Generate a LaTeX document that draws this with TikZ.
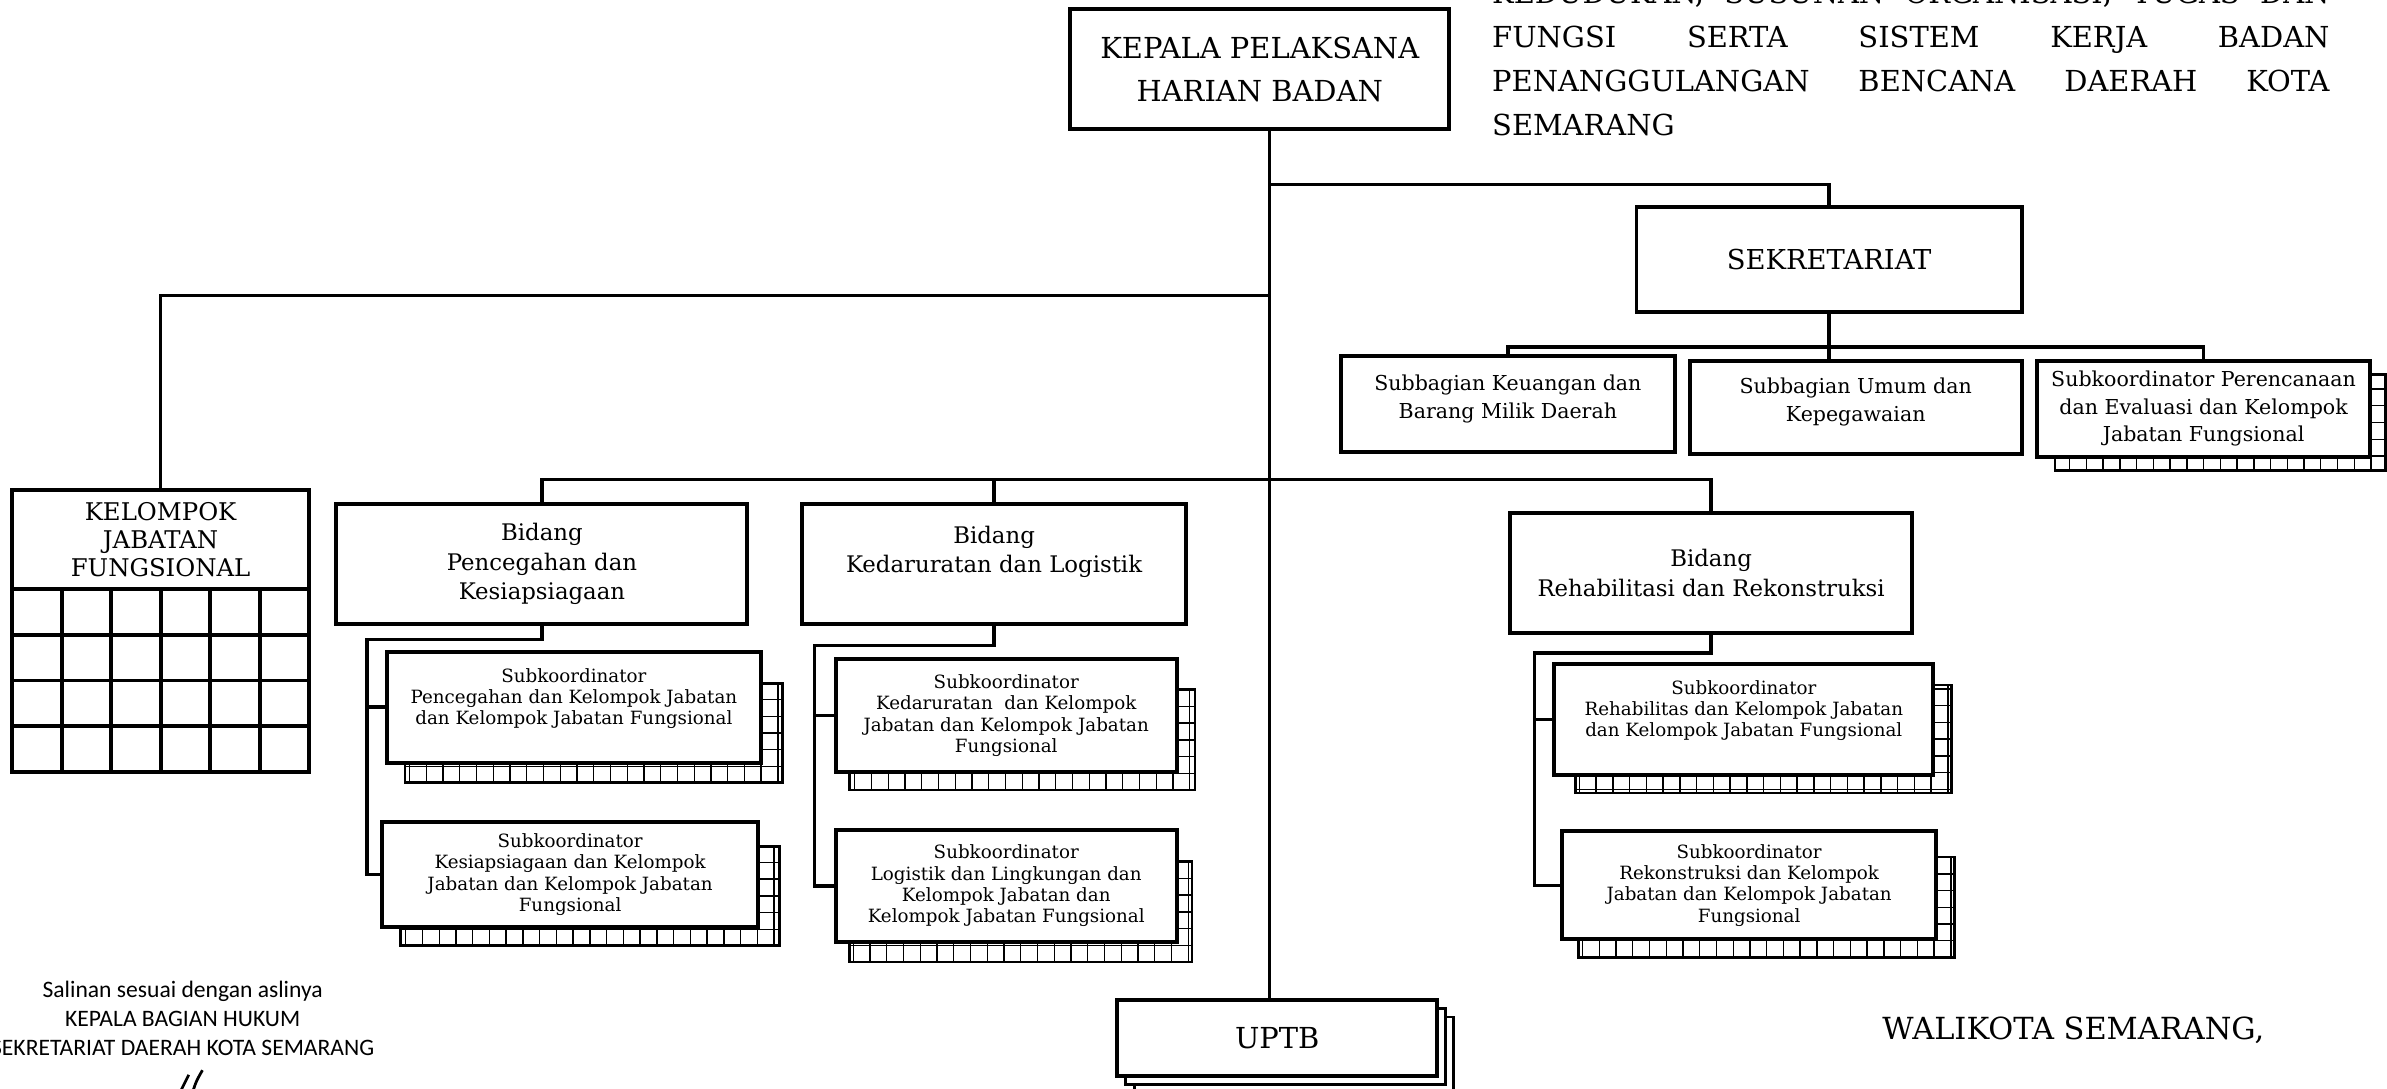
\documentclass[tikz,border=0pt]{standalone}
\usepackage{fontspec}
\setmainfont{DejaVu Serif}
\newfontfamily\calib{Carlito}
\usepackage{tikz}

\begin{document}
\begin{tikzpicture}[x=1pt,y=-1pt]
    \def\tx{834}

    \tikzstyle{box}=[draw=black,line width=2.6pt,fill=white,align=center,inner sep=1pt,outer sep=0pt]
    \tikzstyle{head}=[box,font=\fontsize{19}{28}\selectfont]
    \tikzstyle{bid}=[box,font=\fontsize{15}{19.5}\selectfont]
    \tikzstyle{sub}=[box,font=\fontsize{13.5}{18}\selectfont]
    \tikzstyle{koor}=[box,font=\fontsize{12}{14}\selectfont]
    \tikzstyle{gshadow}=[draw=black,line width=1.6pt,fill=white,inner sep=0pt,outer sep=0pt,path picture={\draw[line width=0.9pt] (path picture bounding box.south west) grid[xstep=11pt,ystep=11pt] (path picture bounding box.north east);}]
    \tikzstyle{copy}=[draw=black,line width=1.8pt,fill=white,inner sep=0pt,outer sep=0pt]
    \tikzstyle{plain}=[inner sep=0pt,align=center]
    \tikzstyle{conn}=[draw=black,line width=2.2pt]

    \useasboundingbox (0,0) rectangle (1568,715);
    \fill[white] (0,0) rectangle (1568,715);

    \node[head,minimum width=249pt,minimum height=79pt] (kph) at (827.5,45.5) {KEPALA PELAKSANA\\HARIAN BADAN};
    \node[plain,anchor=north west,text width=550pt,align=justify,font=\fontsize{19}{29}\selectfont] (ttl) at (980,-12) {KEDUDUKAN, SUSUNAN ORGANISASI, TUGAS DAN\linebreak FUNGSI SERTA SISTEM KERJA BADAN\linebreak PENANGGULANGAN BENCANA DAERAH KOTA\linebreak SEMARANG};

    \node[head,font=\fontsize{18}{22}\selectfont,minimum width=253pt,minimum height=69pt] (sek) at (1201.5,170.5) {SEKRETARIAT};

    \node[sub,minimum width=219pt,minimum height=63pt] (sub1) at (990.5,265.5) {Subbagian Keuangan dan\\Barang Milik Daerah\\[-8pt]\mbox{}};
    \node[sub,minimum width=218pt,minimum height=61pt] (sub2) at (1219,267.5) {Subbagian Umum dan\\Kepegawaian\\[-8pt]\mbox{}};
    \node[gshadow,minimum width=217pt,minimum height=63pt] (sub3s) at (1458.5,277.5) {};
    \node[sub,minimum width=219pt,minimum height=63pt] (sub3) at (1447.5,268.5) {Subkoordinator Perencanaan\\dan Evaluasi dan Kelompok\\Jabatan Fungsional};

    \node[box,font=\fontsize{16}{18.5}\selectfont,minimum width=195pt,minimum height=65pt] (kjf) at (105.5,354.5) {KELOMPOK\\JABATAN\\FUNGSIONAL};
    \node[box,minimum width=195pt,minimum height=120pt,anchor=north] (kjfg) at (kjf.south) {};
    \begin{scope}[shift={(kjfg.north west)}]
        \draw[line width=2.6pt] (0,0) grid[xstep=32.5pt,ystep=30pt] (195,120);
    \end{scope}

    \node[bid,minimum width=270pt,minimum height=79pt] (bid1) at (356,370.5) {Bidang\\Pencegahan dan\\Kesiapsiagaan};
    \node[bid,minimum width=252pt,minimum height=79pt] (bid2) at (653,370.5) {Bidang\\Kedaruratan dan Logistik\\\mbox{}};
    \node[bid,minimum width=264pt,minimum height=79pt] (bid3) at (1124,376.5) {Bidang\\Rehabilitasi dan Rekonstruksi};

    \node[gshadow,minimum width=248pt,minimum height=65pt] (s11s) at (390,481.5) {};
    \node[koor,minimum width=246pt,minimum height=73pt] (s11) at (377,464.5) {Subkoordinator\\Pencegahan dan Kelompok Jabatan\\dan Kelompok Jabatan Fungsional\\\mbox{}};
    \node[gshadow,minimum width=249pt,minimum height=65pt] (s12s) at (387.5,588.5) {};
    \node[koor,minimum width=247pt,minimum height=69pt] (s12) at (374.5,574.5) {Subkoordinator\\Kesiapsiagaan dan Kelompok\\Jabatan dan Kelompok Jabatan\\Fungsional};

    \node[gshadow,minimum width=227pt,minimum height=66pt] (s21s) at (671.5,486) {};
    \node[koor,minimum width=224pt,minimum height=74pt] (s21) at (661,470) {Subkoordinator\\Kedaruratan\ \ dan Kelompok\\Jabatan dan Kelompok Jabatan\\Fungsional};
    \node[gshadow,minimum width=225pt,minimum height=66pt] (s22s) at (670.5,599) {};
    \node[koor,minimum width=224pt,minimum height=74pt] (s22) at (661,582) {Subkoordinator\\Logistik dan Lingkungan dan\\Kelompok Jabatan dan\\Kelompok Jabatan Fungsional};

    \node[gshadow,minimum width=247pt,minimum height=71pt] (s31s) at (1158.5,485.5) {};
    \node[koor,minimum width=249pt,minimum height=73pt] (s31) at (1145.5,472.5) {Subkoordinator\\Rehabilitas dan Kelompok Jabatan\\dan Kelompok Jabatan Fungsional\\\mbox{}};
    \node[gshadow,minimum width=247pt,minimum height=66pt] (s32s) at (1160.5,596) {};
    \node[koor,minimum width=246pt,minimum height=71pt] (s32) at (1149,581.5) {Subkoordinator\\Rekonstruksi dan Kelompok\\Jabatan dan Kelompok Jabatan\\Fungsional};

    \node[copy,minimum width=210pt,minimum height=50pt] (uptb3) at (850,693) {};
    \node[copy,minimum width=210pt,minimum height=50pt] (uptb2) at (844.5,687.5) {};
    \node[head,font=\fontsize{19}{22}\selectfont,minimum width=210pt,minimum height=50pt] (uptb) at (839,682) {UPTB};

    \node[plain,font=\calib\fontsize{15.5}{19}\selectfont] (sal) at (120,669) {Salinan sesuai dengan aslinya\\KEPALA BAGIAN HUKUM\\SEKRETARIAT DAERAH KOTA SEMARANG};
    \draw[line width=1.8pt] (119,716) .. controls (121,711) .. (124,706);
    \draw[line width=1.8pt] (127,716) .. controls (129,710) .. (133,703);

    \node[plain,font=\fontsize{20}{24}\selectfont] (wali) at (1362,677) {WALIKOTA SEMARANG,};

    \coordinate (j1) at (\tx,121);
    \coordinate (j2) at (\tx,194);
    \coordinate (j3) at (\tx,315);
    \coordinate (c1) at (241,420);
    \coordinate (c2) at (535,424);
    \coordinate (c3) at (1008,429);
    \path (sek.south) ++(0,23) coordinate (k1);

    \draw [conn] (kph.south -| j1) -- (j1 |- uptb.north);
    \draw [conn] (j1) -| (sek);
    \draw [conn] (sek) -- (k1) -- (k1 |- sub2.north);
    \draw [conn] (sub1) |- (k1) -| (sub3);
    \draw [conn] (j2) -| (kjf);

    \draw [conn] (bid1) |- (j3) -| (bid3);
    \draw [conn] (bid2) -- (bid2 |- j3);

    \draw [conn] (bid1) |- (c1) |- (s12);
    \draw [conn] (c1) |- (s11);
    \draw [conn] (bid2) |- (c2) |- (s22);
    \draw [conn] (c2) |- (s21);
    \draw [conn] (bid3) |- (c3) |- (s32);
    \draw [conn] (c3) |- (s31);

\end{tikzpicture}
\end{document}
